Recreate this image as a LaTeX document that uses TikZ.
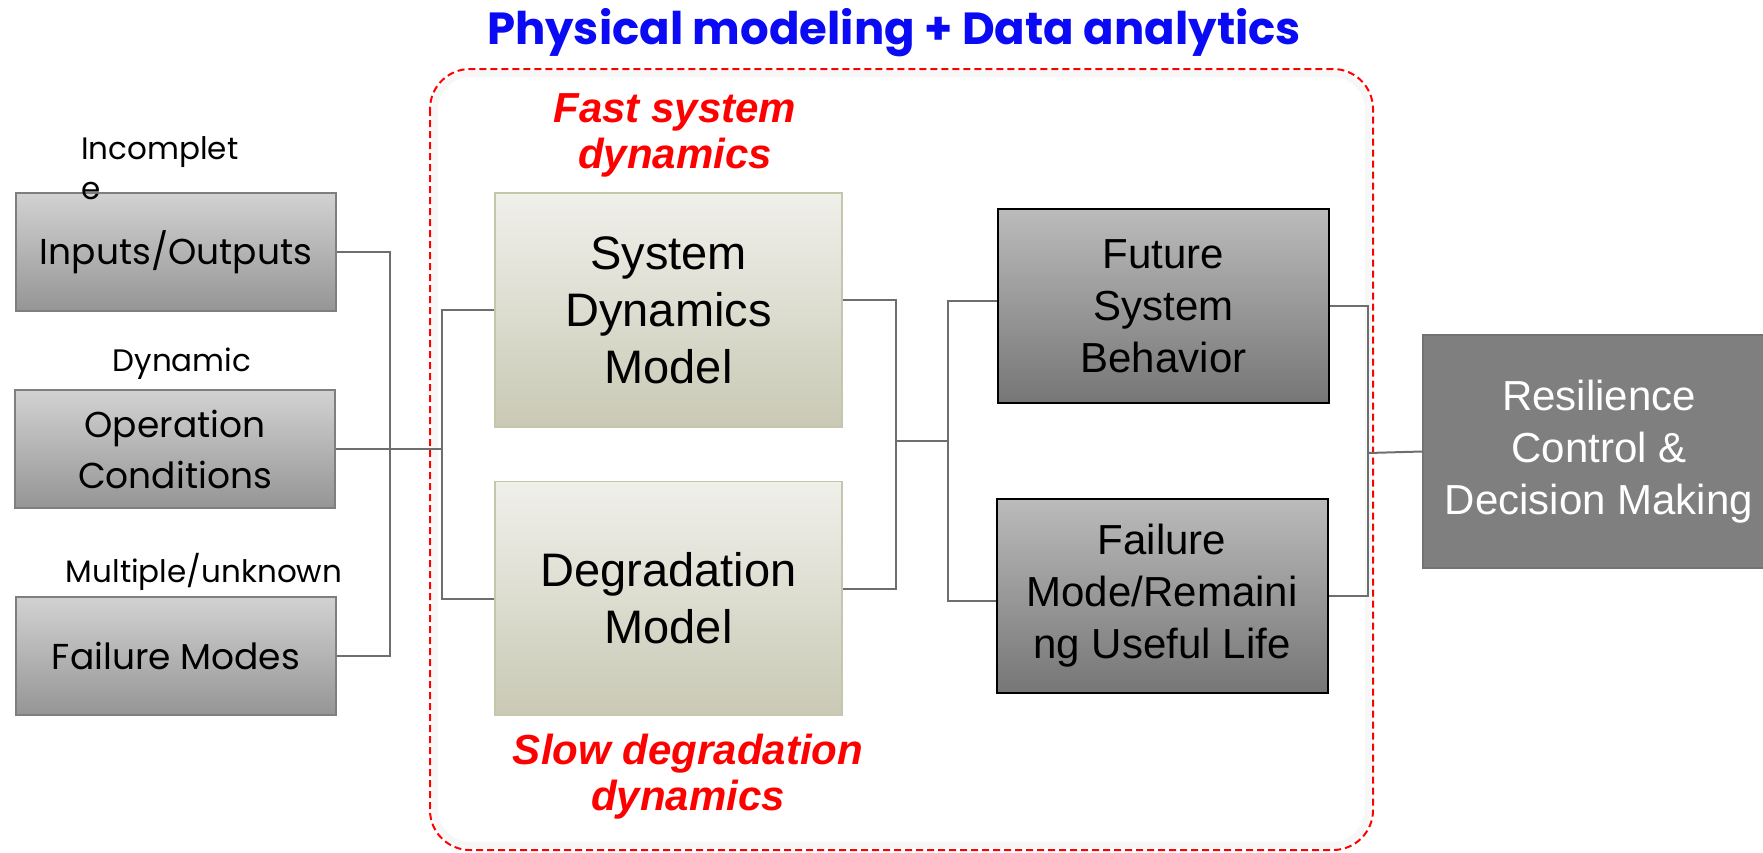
\documentclass[tikz,border=0pt]{standalone}
\usepackage{fontspec}
\setmainfont{Liberation Sans}
\newfontfamily\gothic{Poppins}
\usepackage{tikz}
\definecolor{linegray}{HTML}{6E6E6E}
\definecolor{intop}{HTML}{D2D2D2}
\definecolor{inbot}{HTML}{959595}
\definecolor{inedge}{HTML}{7F7F7F}
\definecolor{modtop}{HTML}{F0F0EB}
\definecolor{modbot}{HTML}{C9C9B5}
\definecolor{modedge}{HTML}{C6C6AC}
\definecolor{outtop}{HTML}{BBBBBB}
\definecolor{outbot}{HTML}{767676}
\definecolor{resfill}{HTML}{7F7F7F}
\definecolor{titleblue}{HTML}{0A0AF5}
\tikzstyle{inbox} = [draw=inedge, line width=1.5pt, top color=intop, bottom color=inbot, minimum width=320pt, minimum height=118pt, inner sep=0pt, align=center, font=\gothic\fontsize{36}{51}\selectfont]
\tikzstyle{modbox} = [draw=modedge, line width=1.5pt, top color=modtop, bottom color=modbot, minimum width=347pt, minimum height=234pt, inner sep=0pt, align=center, font=\fontsize{47}{57}\selectfont]
\tikzstyle{outbox} = [draw=black, line width=2pt, top color=outtop, bottom color=outbot, minimum width=331pt, minimum height=194pt, inner sep=0pt, align=center, font=\fontsize{42}{52}\selectfont]
\tikzstyle{resbox} = [draw=black!55, line width=2pt, fill=resfill, text=white, minimum width=352pt, minimum height=233pt, inner sep=0pt, align=center, font=\fontsize{42}{52}\selectfont]
\tikzstyle{tag} = [inner sep=0pt, align=left, font=\gothic\fontsize{31}{40}\selectfont]
\tikzstyle{note} = [inner sep=0pt, text=red, align=center, font=\bfseries\itshape\fontsize{42}{46}\selectfont]
\tikzstyle{line} = [draw=linegray, line width=2pt]

\begin{document}
\begin{tikzpicture}[x=1pt, y=-1pt]
    \useasboundingbox (0,0) rectangle (1763,852);
    % frame round the two models
    \draw [black!3, line width=6pt, rounded corners=36pt] (435,74) rectangle (1368,845);
    \draw [red, line width=2pt, dash pattern=on 7pt off 4pt, rounded corners=40pt] (430,69) rectangle (1373,850);
    \node (title) [text=titleblue, inner sep=0pt, font=\gothic\bfseries\fontsize{45}{50}\selectfont] at (894,33) {Physical modeling + Data analytics};
    \node (fast) [note] at (675,135) {Fast system\\dynamics};
    \node (slow) [note] at (688,777) {Slow degradation\\dynamics};
    % inputs
    \node (io) [inbox] at (176,252) {Inputs/Outputs};
    \node (oc) [inbox] at (175,449) {Operation\\Conditions};
    \node (fm) [inbox] at (176,656) {Failure Modes};
    \node (incomplete) [tag, anchor=west] at (81,168) {Incomplet\\e};
    \node (dynamic) [tag] at (182,364) {Dynamic};
    \node (multiple) [tag] at (204,572) {Multiple/unknown};
    % models
    \node (sdm) [modbox] at (668.5,310) {System\\Dynamics\\Model};
    \node (dm) [modbox] at (668.5,598.5) {Degradation\\Model};
    % outputs
    \node (fsb) [outbox] at (1163.5,306) {Future\\System\\Behavior};
    \node (rul) [outbox] at (1162,595.5) {Failure\\Mode/Remaini\\ng Useful Life};
    \node (res) [resbox] at (1599,451.5) {Resilience\\Control \&\\Decision Making};
    % connectors
    \coordinate (inbus) at (390,252);
    \coordinate (modbus) at (442,449);
    \coordinate (midbus) at (896,441);
    \coordinate (outbus) at (948,441);
    \coordinate (resbus) at (1368,453);
    \path [line] (io.east) -| (inbus) |- (fm.east);
    \path [line] (oc.east) -- (modbus);
    \path [line] (sdm.west) -| (modbus) |- (dm.west);
    \path [line] ([yshift=10pt]sdm.east) -| (midbus) |- ([yshift=10pt]dm.east);
    \path [line] (midbus) -- (outbus);
    \path [line] ([yshift=5pt]fsb.west) -| (outbus) |- ([yshift=-5pt]rul.west);
    \path [line] (fsb.east) -| (resbus) |- (rul.east);
    \path [line] (resbus) -- (res.west);
\end{tikzpicture}
\end{document}
